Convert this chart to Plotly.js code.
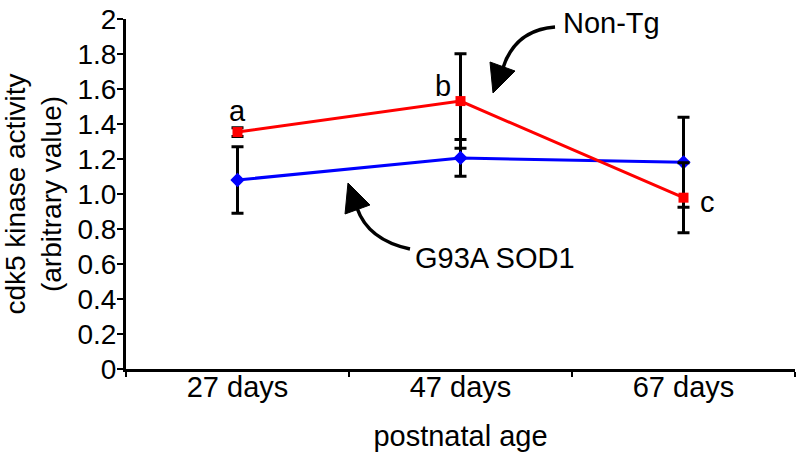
<!DOCTYPE html>
<html>
<head>
<meta charset="utf-8">
<script src="https://cdn.plot.ly/plotly-3.0.1.min.js"></script>
<style>html,body{margin:0;padding:0;background:#fff;}#chart{width:800px;height:456px;}</style>
</head>
<body>
<div id="chart"></div>
<script>
const categories = ['27 days', '47 days', '67 days'];
const nonTg = [1.354, 1.531, 0.979];
const nonTgErr = [0.025, 0.27, 0.20];
const g93a = [1.08, 1.206, 1.181];
const g93aErr = [0.19, 0.105, 0.257];
const yTickVals = [0, 0.2, 0.4, 0.6, 0.8, 1.0, 1.2, 1.4, 1.6, 1.8, 2];
const yTickText = ['0', '0.2', '0.4', '0.6', '0.8', '1.0', '1.2', '1.4', '1.6', '1.8', '2'];
const pointLabels = ['a', 'b', 'c'];

// plot-area geometry (pixels) used only for placing decorations
const L = 126, R = 795, T = 19, B = 369;
function px(x) { return (x - L) / (R - L); }
function py(y) { return (B - y) / (B - T); }
function P(x, y) { return px(x).toFixed(4) + ',' + py(y).toFixed(4); }

const FONT = 'Liberation Sans, Arial, sans-serif';

const traces = [
  {
    x: categories, y: g93a, name: 'G93A SOD1', type: 'scatter', mode: 'lines+markers',
    line: {color: '#0000ff', width: 3},
    marker: {symbol: 'diamond', size: 11, color: '#0000ff'},
    error_y: {type: 'data', array: g93aErr, visible: true, color: '#000', thickness: 3, width: 6}
  },
  {
    x: categories, y: nonTg, name: 'Non-Tg', type: 'scatter', mode: 'lines+markers',
    line: {color: '#ff0000', width: 3},
    marker: {symbol: 'square', size: 10, color: '#ff0000'},
    error_y: {type: 'data', array: nonTgErr, visible: true, color: '#000', thickness: 3, width: 6}
  }
];

const annotations = [
  {xref: 'x', yref: 'y', x: categories[0], y: nonTg[0], text: pointLabels[0], showarrow: false,
   xanchor: 'center', yanchor: 'bottom', yshift: 3, font: {family: FONT, size: 29, color: '#000'}},
  {xref: 'x', yref: 'y', x: categories[1], y: nonTg[1], text: pointLabels[1], showarrow: false,
   xanchor: 'center', yanchor: 'bottom', xshift: -18, yshift: -3, font: {family: FONT, size: 29, color: '#000'}},
  {xref: 'x', yref: 'y', x: categories[2], y: nonTg[2], text: pointLabels[2], showarrow: false,
   xanchor: 'left', yanchor: 'middle', xshift: 14, yshift: -4, font: {family: FONT, size: 29, color: '#000'}},
  {xref: 'paper', yref: 'paper', x: px(611), y: py(23), text: 'Non-Tg', showarrow: false,
   xanchor: 'center', yanchor: 'middle', font: {family: FONT, size: 29, color: '#000'}},
  {xref: 'paper', yref: 'paper', x: px(495), y: py(258), text: 'G93A SOD1', showarrow: false,
   xanchor: 'center', yanchor: 'middle', font: {family: FONT, size: 29, color: '#000'}}
];

const shapes = [
  {type: 'path', xref: 'paper', yref: 'paper', path: 'M' + P(555, 27) + ' Q' + P(515, 30) + ' ' + P(503, 68),
   line: {color: '#000', width: 3.5}},
  {type: 'path', xref: 'paper', yref: 'paper', path: 'M' + P(493, 93) + ' L' + P(490, 62) + ' L' + P(515, 71) + ' Z',
   line: {color: '#000', width: 1}, fillcolor: '#000'},
  {type: 'path', xref: 'paper', yref: 'paper', path: 'M' + P(410, 249) + ' Q' + P(368, 240) + ' ' + P(357, 208),
   line: {color: '#000', width: 3.5}},
  {type: 'path', xref: 'paper', yref: 'paper', path: 'M' + P(348, 183) + ' L' + P(345, 214) + ' L' + P(370, 205) + ' Z',
   line: {color: '#000', width: 1}, fillcolor: '#000'}
];

const layout = {
  width: 800, height: 456,
  margin: {l: L, r: 800 - R, t: T, b: 456 - B},
  paper_bgcolor: '#fff', plot_bgcolor: '#fff',
  showlegend: false,
  font: {family: FONT, color: '#000'},
  xaxis: {
    type: 'category', range: [-0.5, 2.5], tickson: 'boundaries',
    ticks: 'outside', ticklen: 5, tickwidth: 2.5, tickcolor: '#000',
    showline: true, linewidth: 3, linecolor: '#000',
    showgrid: false, zeroline: false, ticklabelstandoff: -10,
    tickfont: {family: FONT, size: 29, color: '#000'},
    title: {text: 'postnatal age', font: {family: FONT, size: 29, color: '#000'}, standoff: 24},
    fixedrange: true
  },
  yaxis: {
    range: [0, 2], tickmode: 'array', tickvals: yTickVals, ticktext: yTickText,
    ticks: 'outside', ticklen: 6, tickwidth: 2.5, tickcolor: '#000',
    showline: true, linewidth: 3, linecolor: '#000',
    showgrid: false, zeroline: false, ticklabelstandoff: -5,
    tickfont: {family: FONT, size: 28, color: '#000'},
    title: {text: 'cdk5 kinase activity<br>(arbitrary value)', font: {family: FONT, size: 28, color: '#000'}, standoff: 8},
    fixedrange: true
  },
  annotations: annotations,
  shapes: shapes
};

Plotly.newPlot('chart', traces, layout, {displayModeBar: false, staticPlot: true});
</script>
</body>
</html>
